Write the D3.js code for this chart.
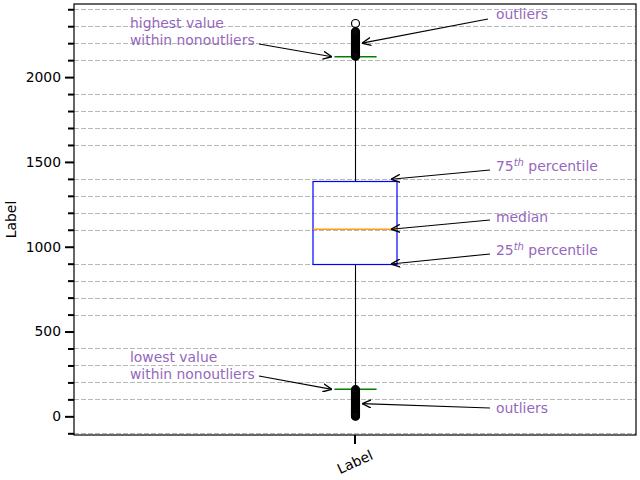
<!DOCTYPE html>
<html>
<head>
<meta charset="utf-8">
<script src="https://cdn.jsdelivr.net/npm/d3@7"></script>
<style>
  body { margin: 0; background: #fff; }
  text { font-family: "DejaVu Sans", sans-serif; }
</style>
</head>
<body>
<div id="chart"></div>
<script>
// box summary
var categories = ["Label"];
var q1 = [898];
var median = [1103];
var q3 = [1386];
var whiskerLow = [159];
var whiskerHigh = [2120];
var outliersHigh = [2123, 2126, 2129, 2132, 2135, 2139, 2143, 2147, 2151, 2155, 2159, 2163,
    2167, 2171, 2175, 2179, 2183, 2187, 2191, 2195, 2199, 2203, 2207, 2211, 2215, 2219,
    2223, 2227, 2231, 2235, 2239, 2243, 2247, 2251, 2255, 2259, 2263, 2267, 2316];
var outliersLow = [1, 3, 6, 9, 12, 15, 18, 21, 25, 29, 33, 37, 41, 45, 49, 53, 57, 61, 65,
    69, 73, 77, 81, 85, 89, 93, 97, 101, 105, 109, 113, 117, 121, 125, 129, 133, 137, 141,
    145, 149, 153, 157];
var majorTicks = [0, 500, 1000, 1500, 2000];
var minorTicks = [-100, 100, 200, 300, 400, 600, 700, 800, 900, 1100, 1200, 1300, 1400,
    1600, 1700, 1800, 1900, 2100, 2200, 2300, 2400];

var width = 640, height = 480;
var margin = {left: 74, right: 4, top: 4, bottom: 45};
var purple = "#9467bd";
var fs = "13.9px";

var svg = d3.select("#chart").append("svg")
    .attr("width", width)
    .attr("height", height);

var defs = svg.append("defs");
defs.append("marker")
    .attr("id", "head")
    .attr("viewBox", "0 0 10 10")
    .attr("refX", 10).attr("refY", 5)
    .attr("markerWidth", 9).attr("markerHeight", 9)
    .attr("markerUnits", "userSpaceOnUse")
    .attr("orient", "auto")
    .append("path")
    .attr("d", "M0,0.5 L10,5 L0,9.5")
    .style("fill", "none")
    .style("stroke", "black")
    .style("stroke-width", 1.5);

var x = d3.scaleLinear().domain([0.5, 1.5]).range([margin.left, width - margin.right]);
var y = d3.scaleLinear().domain([-110, 2431]).range([height - margin.bottom, margin.top]);

// grid on minor ticks only
svg.append("g").selectAll("line")
    .data(minorTicks)
    .enter().append("line")
    .attr("x1", margin.left).attr("x2", width - margin.right)
    .attr("y1", function(d) { return Math.round(y(d)) + 0.5; })
    .attr("y2", function(d) { return Math.round(y(d)) + 0.5; })
    .style("stroke", "#b0b0b0")
    .style("stroke-width", 0.9)
    .style("stroke-dasharray", "5,2");

var yMajor = d3.axisLeft(y).tickValues(majorTicks).tickSize(9).tickPadding(4).tickFormat(d3.format("d"));
var yMinor = d3.axisLeft(y).tickValues(minorTicks).tickSize(6).tickFormat("");

var gMinor = svg.append("g").attr("transform", "translate(" + margin.left + ",0)").call(yMinor);
var gMajor = svg.append("g").attr("transform", "translate(" + margin.left + ",0)").call(yMajor);
[gMinor, gMajor].forEach(function(g) {
    g.select(".domain").remove();
    g.selectAll(".tick line").style("stroke", "black").style("stroke-width", 2);
});
gMajor.selectAll(".tick text")
    .style("font-size", fs)
    .style("fill", "black");

var boxW = 0.15;
var bw = x(1 + boxW / 2) - x(1 - boxW / 2);

categories.forEach(function(c, i) {
    var cx = Math.round(x(i + 1)) + 0.5;
    var g = svg.append("g");
    // whiskers
    g.append("line")
        .attr("x1", cx).attr("x2", cx)
        .attr("y1", y(q3[i])).attr("y2", y(whiskerHigh[i]))
        .style("stroke", "black").style("stroke-width", 1.1);
    g.append("line")
        .attr("x1", cx).attr("x2", cx)
        .attr("y1", y(q1[i])).attr("y2", y(whiskerLow[i]))
        .style("stroke", "black").style("stroke-width", 1.1);
    // caps
    [whiskerHigh[i], whiskerLow[i]].forEach(function(v) {
        g.append("line")
            .attr("x1", cx - bw / 4).attr("x2", cx + bw / 4)
            .attr("y1", y(v)).attr("y2", y(v))
            .style("stroke", "#008000").style("stroke-width", 1.5);
    });
    // box
    g.append("rect")
        .attr("x", Math.round(cx - bw / 2))
        .attr("y", Math.round(y(q3[i])) + 0.5)
        .attr("width", Math.round(bw))
        .attr("height", Math.round(y(q1[i]) - y(q3[i])))
        .style("fill", "none")
        .style("stroke", "blue")
        .style("stroke-width", 1.2);
    g.append("line")
        .attr("x1", cx - bw / 2).attr("x2", cx + bw / 2)
        .attr("y1", y(median[i])).attr("y2", y(median[i]))
        .style("stroke", "#ff9f0e").style("stroke-width", 1.5);
    // fliers
    g.selectAll("circle")
        .data(outliersLow.concat(outliersHigh))
        .enter().append("circle")
        .attr("cx", cx)
        .attr("cy", function(d) { return y(d); })
        .attr("r", 4)
        .style("fill", "none")
        .style("stroke", "black")
        .style("stroke-width", 1.2);
});

// frame
svg.append("rect")
    .attr("x", margin.left).attr("y", margin.top)
    .attr("width", width - margin.left - margin.right)
    .attr("height", height - margin.top - margin.bottom)
    .style("fill", "none")
    .style("stroke", "black")
    .style("stroke-width", 1.2);

// x axis tick
var xb = d3.scaleBand().domain(categories).range([x(0.5), x(1.5)]);
var gx = svg.append("g")
    .attr("transform", "translate(0," + (height - margin.bottom) + ")")
    .call(d3.axisBottom(xb).tickSize(9).tickPadding(5));
gx.select(".domain").remove();
gx.selectAll(".tick line").style("stroke", "black").style("stroke-width", 2);
gx.selectAll(".tick text")
    .style("font-size", fs)
    .style("fill", "black")
    .attr("text-anchor", "middle")
    .attr("transform", "translate(0,27) rotate(-25)")
    .attr("dy", "0.35em")
    .attr("y", 0);

svg.append("text")
    .attr("transform", "translate(16," + ((margin.top + height - margin.bottom) / 2) + ") rotate(-90)")
    .attr("text-anchor", "middle")
    .style("font-size", fs)
    .text("Label");

// annotations
function note(lines, tx, ty, from, to) {
    var t = svg.append("text")
        .attr("x", tx).attr("y", ty)
        .style("font-size", fs)
        .style("fill", purple);
    lines.forEach(function(l, k) {
        var ts = t.append("tspan").attr("x", tx).attr("y", ty + k * 16.5);
        if (Array.isArray(l)) {
            ts.text(l[0]);
            t.append("tspan").attr("dy", -5).style("font-size", "10px")
                .style("font-style", "italic").text(l[1]);
            t.append("tspan").attr("dy", 5).text(l[2]);
        } else {
            ts.text(l);
        }
    });
    svg.append("line")
        .attr("x1", from[0]).attr("y1", from[1])
        .attr("x2", to[0]).attr("y2", to[1])
        .style("stroke", "black")
        .style("stroke-width", 1.2)
        .attr("marker-end", "url(#head)");
}

var cx = x(1);
note(["highest value", "within nonoutliers"], 130, 28, [259, 44], [cx - bw / 4 - 2, y(whiskerHigh[0])]);
note(["outliers"], 496, 19, [488, 19], [cx + 7, y(2200)]);
note([["75", "th", " percentile"]], 496, 171, [490, 170], [cx + bw / 2 - 6, y(q3[0]) - 2]);
note(["median"], 496, 222, [490, 220], [cx + bw / 2 - 6, y(median[0])]);
note([["25", "th", " percentile"]], 496, 255, [490, 254], [cx + bw / 2 - 6, y(q1[0])]);
note(["lowest value", "within nonoutliers"], 130, 362, [259, 376], [cx - bw / 4 - 2, y(whiskerLow[0])]);
note(["outliers"], 496, 413, [490, 408], [cx + 7, y(75)]);
</script>
</body>
</html>
